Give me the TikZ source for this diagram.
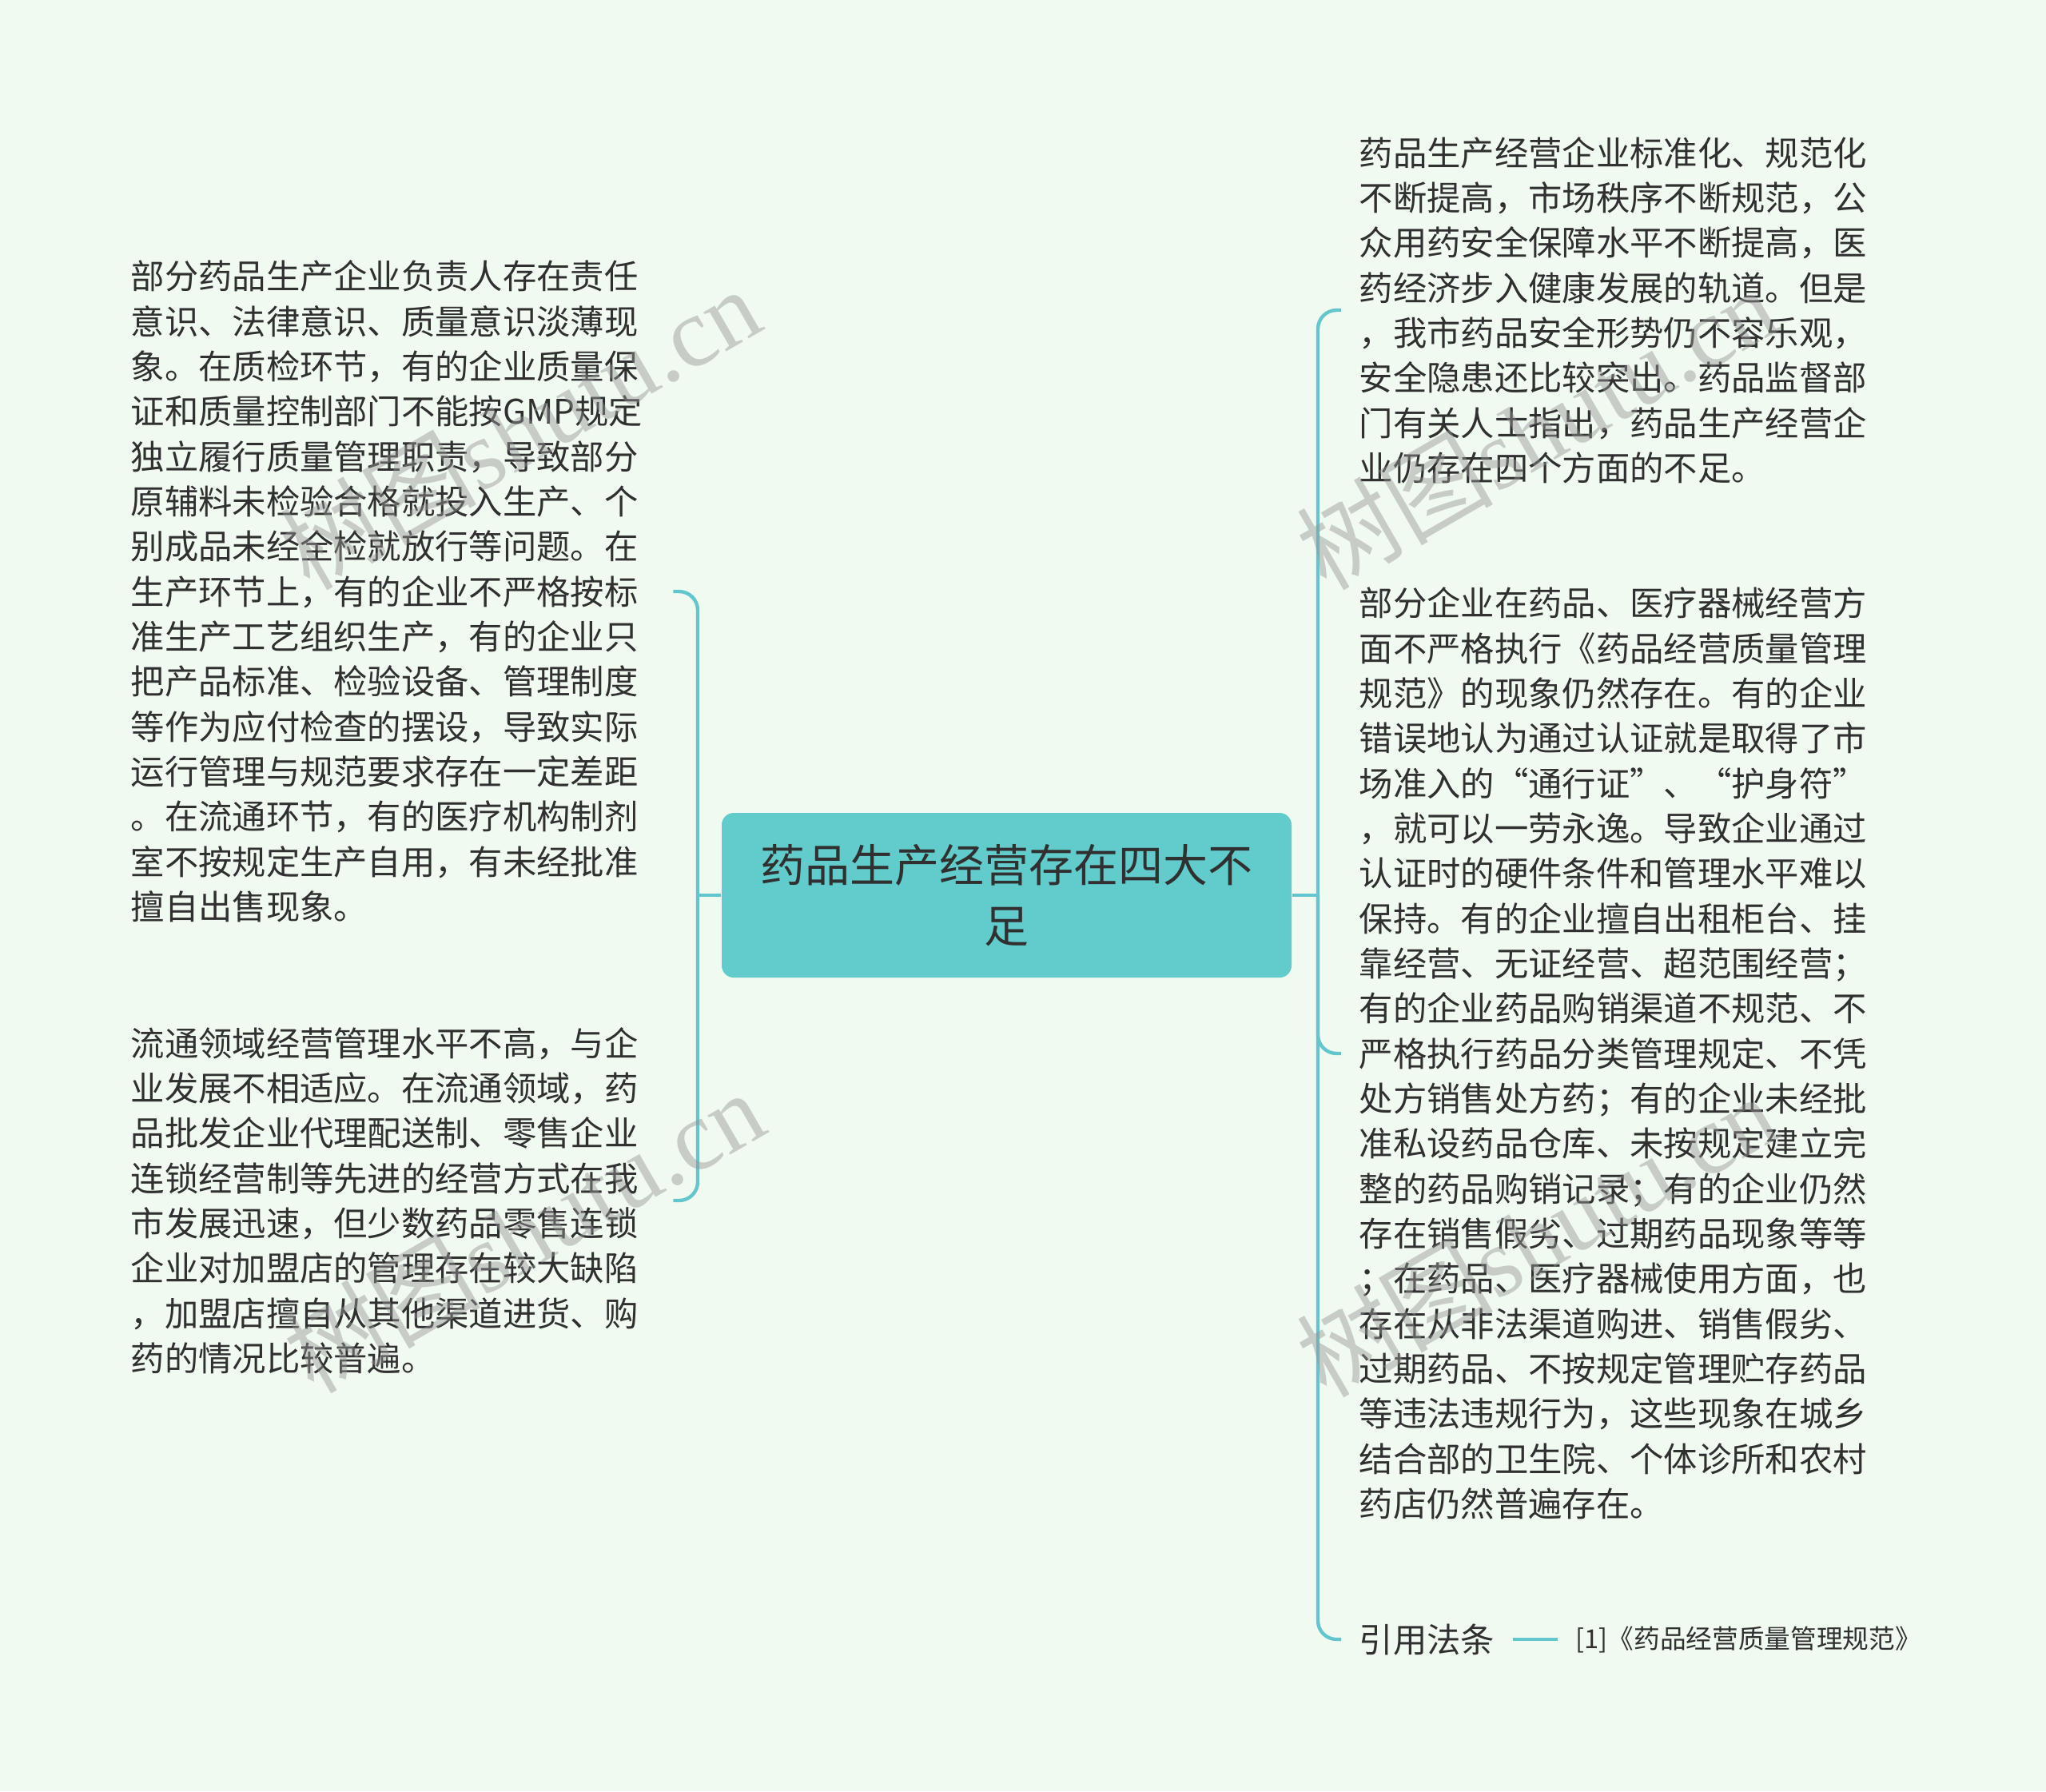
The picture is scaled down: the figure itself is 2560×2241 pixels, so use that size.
\documentclass[tikz,border=0pt]{standalone}
\usepackage{fontspec}
\setmainfont{Noto Sans CJK SC}
\newfontfamily\wmlatin{Liberation Serif}
\definecolor{bgc}{RGB}{240,250,240}
\definecolor{teal1}{RGB}{98,203,204}
\definecolor{linec}{RGB}{99,198,204}
\definecolor{txt}{RGB}{48,48,48}
\definecolor{wmc}{RGB}{150,150,150}
\tikzset{
  conn/.style={draw=linec, line width=1.3pt},
  centerbox/.style={fill=teal1, rounded corners=4.5pt, minimum width=213.9pt, minimum height=61.8pt,
    inner sep=0pt, align=center, text=txt, font=\fontsize{16.8pt}{23pt}\selectfont},
  lefttext/.style={anchor=west, inner sep=0pt, text width=203.4pt, align=left, text=txt,
    font=\fontsize{12.7pt}{16.9pt}\selectfont},
  righttext/.style={anchor=west, inner xsep=6.6pt, inner ysep=0pt, text width=200pt, align=left, text=txt,
    font=\fontsize{12.7pt}{16.9pt}\selectfont},
  reftext/.style={anchor=west, inner xsep=6.6pt, inner ysep=0pt, text=txt,
    font=\fontsize{12.7pt}{16.9pt}\selectfont},
  citetext/.style={anchor=west, inner xsep=6.6pt, inner ysep=0pt, text=txt,
    font=\fontsize{9.8pt}{12pt}\selectfont},
  wm/.style={rotate=30, text=wmc, text opacity=0.45, inner sep=0pt,
    font=\fontsize{37pt}{40pt}\selectfont}
}
\begin{document}
\begin{tikzpicture}[x=0.3pt, y=-0.3pt]
\fill[bgc] (0,0) rectangle (2560,2241);
\useasboundingbox (0,0) rectangle (2560,2241);

\node[centerbox] (C) at (1259.5,1120) {药品生产经营存在四大不\\足};

\node[lefttext] (L1) at (163,740) {部分药品生产企业负责人存在责任\\
意识、法律意识、质量意识淡薄现\\
象。在质检环节，有的企业质量保\\
证和质量控制部门不能按GMP规定\\
独立履行质量管理职责，导致部分\\
原辅料未检验合格就投入生产、个\\
别成品未经全检就放行等问题。在\\
生产环节上，有的企业不严格按标\\
准生产工艺组织生产，有的企业只\\
把产品标准、检验设备、管理制度\\
等作为应付检查的摆设，导致实际\\
运行管理与规范要求存在一定差距\\
。在流通环节，有的医疗机构制剂\\
室不按规定生产自用，有未经批准\\
擅自出售现象。};

\node[lefttext] (L2) at (163,1502) {流通领域经营管理水平不高，与企\\
业发展不相适应。在流通领域，药\\
品批发企业代理配送制、零售企业\\
连锁经营制等先进的经营方式在我\\
市发展迅速，但少数药品零售连锁\\
企业对加盟店的管理存在较大缺陷\\
，加盟店擅自从其他渠道进货、购\\
药的情况比较普遍。};

\node[righttext] (R1) at (1678,388) {药品生产经营企业标准化、规范化\\
不断提高，市场秩序不断规范，公\\
众用药安全保障水平不断提高，医\\
药经济步入健康发展的轨道。但是\\
，我市药品安全形势仍不容乐观，\\
安全隐患还比较突出。药品监督部\\
门有关人士指出，药品生产经营企\\
业仍存在四个方面的不足。};

\node[righttext] (R2) at (1678,1318) {部分企业在药品、医疗器械经营方\\
面不严格执行《药品经营质量管理\\
规范》的现象仍然存在。有的企业\\
错误地认为通过认证就是取得了市\\
场准入的“通行证”、“护身符”\\
，就可以一劳永逸。导致企业通过\\
认证时的硬件条件和管理水平难以\\
保持。有的企业擅自出租柜台、挂\\
靠经营、无证经营、超范围经营；\\
有的企业药品购销渠道不规范、不\\
严格执行药品分类管理规定、不凭\\
处方销售处方药；有的企业未经批\\
准私设药品仓库、未按规定建立完\\
整的药品购销记录；有的企业仍然\\
存在销售假劣、过期药品现象等等\\
；在药品、医疗器械使用方面，也\\
存在从非法渠道购进、销售假劣、\\
过期药品、不按规定管理贮存药品\\
等违法违规行为，这些现象在城乡\\
结合部的卫生院、个体诊所和农村\\
药店仍然普遍存在。};

\node[reftext] (R3) at (1678,2051) {引用法条};
\node[citetext] (Ct) at (1949,2051) {[1]《药品经营质量管理规范》};

\coordinate (jL) at (873,1120);
\coordinate (jR) at (1649,1120);
\draw[conn] (C.west) -- (jL);
\draw[conn, rounded corners=7pt] (jL) |- (L1.east);
\draw[conn, rounded corners=7pt] (jL) |- (L2.east);
\draw[conn] (C.east) -- (jR);
\draw[conn, rounded corners=7pt] (jR) |- (R1.west);
\draw[conn, rounded corners=7pt] (jR) |- (R2.west);
\draw[conn, rounded corners=7pt] (jR) |- (R3.west);
\draw[conn] (R3.east) -- (Ct.west);

\node[wm] (w1) at (650,535) {树图{\wmlatin shutu.cn}};
\node[wm] (w2) at (655,1540) {树图{\wmlatin shutu.cn}};
\node[wm] (w3) at (1922,535) {树图{\wmlatin shutu.cn}};
\node[wm] (w4) at (1922,1545) {树图{\wmlatin shutu.cn}};
\end{tikzpicture}
\end{document}
